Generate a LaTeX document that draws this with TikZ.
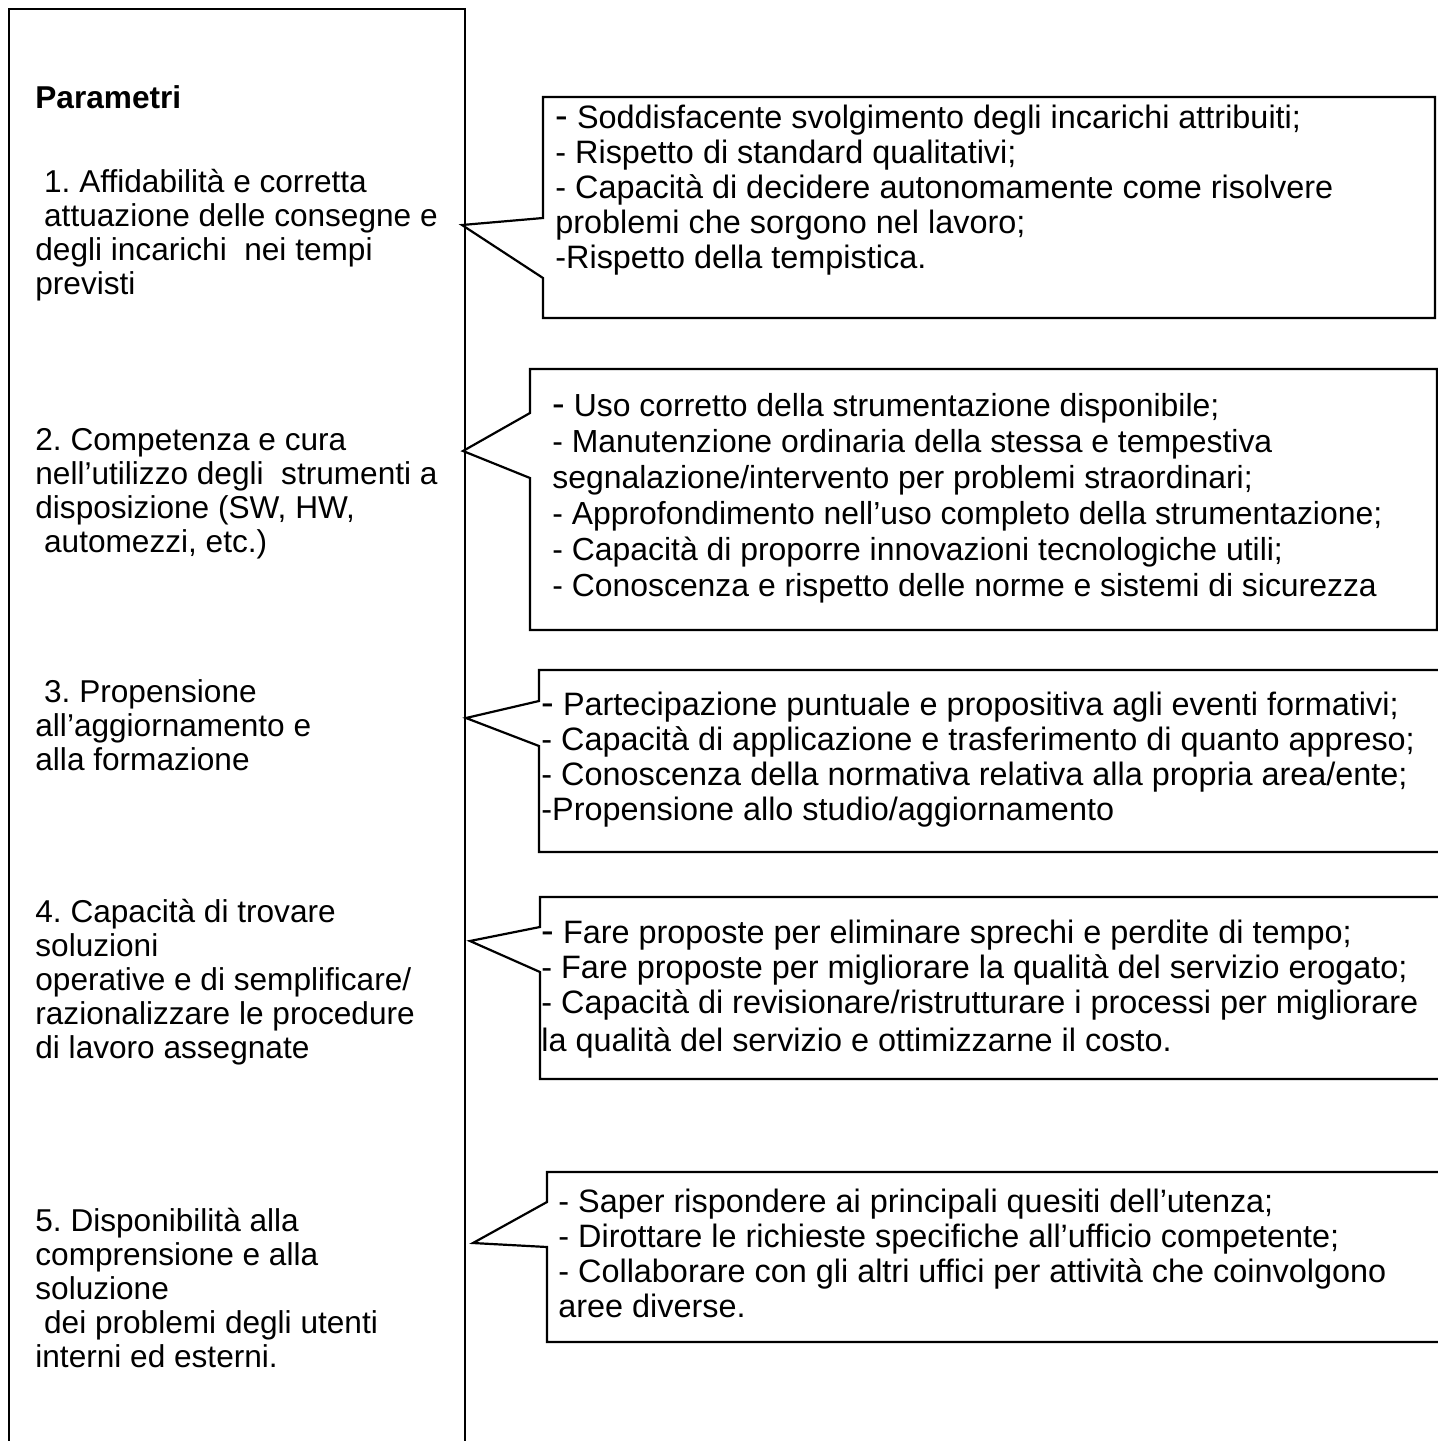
\documentclass[tikz,border=0pt]{standalone}
\usepackage{fontspec}
\setmainfont{Liberation Sans}
\usetikzlibrary{positioning}
\frenchspacing

\tikzstyle{param} = [anchor=north west, align=left, inner sep=0pt, font=\fontsize{15.8}{17}\selectfont]
\tikzstyle{crit} = [anchor=north west, align=left, inner sep=0pt, font=\fontsize{16.2}{17.5}\selectfont]
\tikzstyle{callout} = [draw, line width=1.1pt, line join=miter]
\newcommand{\bigdash}{{\fontsize{19}{17}\selectfont -}}

\begin{document}
\begin{tikzpicture}[x=0.5pt, y=-0.5pt]
		\useasboundingbox (0,0) rectangle (1438,1441);
		\clip (0,0) rectangle (1438,1441);
		
		% left column
		\draw [callout] (9,1470) -- (9,9) -- (465,9) -- (465,1470);
		\node [param, font=\fontsize{15.8}{17}\selectfont\bfseries] (par) at (35,84) {\strut Parametri};
		\node [param] (p1) at (35,168) {\strut\ 1. Affidabilità e corretta\\ \ attuazione delle consegne e\\degli incarichi \ nei tempi\\previsti};
		\node [param] (p2) at (35,426) {\strut 2. Competenza e cura\\nell’utilizzo degli \ strumenti a\\disposizione (SW, HW,\\ \ automezzi, etc.)};
		\node [param] (p3) at (35,678) {\strut\ 3. Propensione\\all’aggiornamento e\\alla formazione};
		\node [param] (p4) at (35,898) {\strut 4. Capacità di trovare\\soluzioni\\operative e di semplificare/\\razionalizzare le procedure\\di lavoro assegnate};
		\node [param] (p5) at (35,1207) {\strut 5. Disponibilità alla\\comprensione e alla\\soluzione\\ \ dei problemi degli utenti\\interni ed esterni.};
		
		% tips of the callouts
		\coordinate (tip1) at (462,225);
		\coordinate (tip2) at (463,451);
		\coordinate (tip3) at (466,718);
		\coordinate (tip4) at (470,941);
		\coordinate (tip5) at (473,1243);
		
		% callouts
		\draw [callout] (543,97) -- (1435,97) -- (1435,318) -- (543,318) -- (543,278) -- (tip1) -- (543,218) -- cycle;
		\draw [callout] (530,369) -- (1437,369) -- (1437,630) -- (530,630) -- (530,478) -- (tip2) -- (530,413) -- cycle;
		\draw [callout] (539,670) -- (1470,670) -- (1470,852) -- (539,852) -- (539,746) -- (tip3) -- (539,701) -- cycle;
		\draw [callout] (540,897) -- (1470,897) -- (1470,1079) -- (540,1079) -- (540,972) -- (tip4) -- (540,927) -- cycle;
		\draw [callout] (547,1172) -- (1470,1172) -- (1470,1342) -- (547,1342) -- (547,1247) -- (tip5) -- (547,1202) -- cycle;
		
		\node [crit] (c1) at (555,104) {\strut\bigdash\ Soddisfacente svolgimento degli incarichi attribuiti;\\- Rispetto di standard qualitativi;\\- Capacità di decidere autonomamente come risolvere\\problemi che sorgono nel lavoro;\\ -Rispetto della tempistica.};
		\node [crit, font=\fontsize{15.95}{18}\selectfont] (c2) at (552,391) {\strut\bigdash\ Uso corretto della strumentazione disponibile;\\- Manutenzione ordinaria della stessa e tempestiva\\segnalazione/intervento per problemi straordinari;\\- Approfondimento nell’uso completo della strumentazione;\\- Capacità di proporre innovazioni tecnologiche utili;\\- Conoscenza e rispetto delle norme e sistemi di sicurezza};
		\node [crit] (c3) at (541,691) {\strut\bigdash\ Partecipazione puntuale e propositiva agli eventi formativi;\\- Capacità di applicazione e trasferimento di quanto appreso;\\- Conoscenza della normativa relativa alla propria area/ente;\\-Propensione allo studio/aggiornamento};
		\node [crit] (c4) at (541,919) {\strut\bigdash\ Fare proposte per eliminare sprechi e perdite di tempo;\\- Fare proposte per migliorare la qualità del servizio erogato;\\- Capacità di revisionare/ristrutturare i processi per migliorare\\[1.5pt]la qualità del servizio e ottimizzarne il costo.};
		\node [crit] (c5) at (558,1188) {\strut - Saper rispondere ai principali quesiti dell’utenza;\\- Dirottare le richieste specifiche all’ufficio competente;\\- Collaborare con gli altri uffici per attività che coinvolgono\\aree diverse.};
\end{tikzpicture}
\end{document}
